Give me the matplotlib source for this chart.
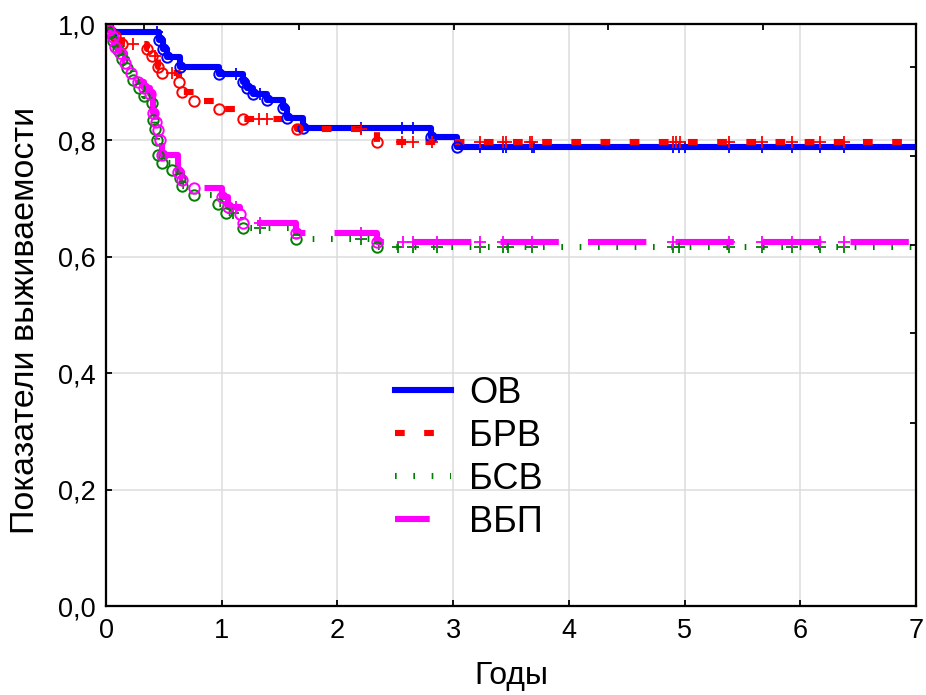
import numpy as np
import matplotlib.pyplot as plt
from matplotlib.lines import Line2D

plt.rcParams['font.family'] = ['Liberation Sans', 'DejaVu Sans']
plt.rcParams['lines.scale_dashes'] = False

# survival steps (time, survival after the event)
t_ov = [0.0, 0.04, 0.46, 0.49, 0.53, 0.64, 0.98, 1.18, 1.22, 1.27, 1.39, 1.53, 1.56, 1.70, 2.81, 3.03]
s_ov = [1.0, 0.986, 0.972, 0.957, 0.943, 0.926, 0.914, 0.9, 0.89, 0.88, 0.87, 0.856, 0.838, 0.821, 0.805, 0.789]
c_ov = [0.44, 1.12, 1.33, 2.2, 2.56, 2.65, 3.23, 3.43, 3.46, 3.68, 3.70, 4.9, 4.95, 5.0, 5.38, 5.67, 5.93, 6.17, 6.38]

t_brv = [0.0, 0.03, 0.08, 0.14, 0.35, 0.40, 0.45, 0.48, 0.63, 0.66, 0.76, 0.98, 1.18, 1.65, 2.34]
s_brv = [1.0, 0.99, 0.98, 0.965, 0.957, 0.945, 0.926, 0.916, 0.9, 0.883, 0.868, 0.854, 0.837, 0.82, 0.797]
c_brv = [0.23, 0.42, 0.57, 1.32, 1.39, 2.2, 2.56, 2.65, 2.82, 3.23, 3.43, 3.46, 3.66, 3.68, 4.9, 4.93, 4.96,
         5.38, 5.67, 5.93, 6.17, 6.38]

t_bsv = [0.0, 0.03, 0.06, 0.1, 0.14, 0.18, 0.235, 0.285, 0.33, 0.40, 0.41, 0.42, 0.44, 0.45, 0.48, 0.57,
         0.64, 0.66, 0.76, 0.97, 1.04, 1.18, 1.64, 2.34]
s_bsv = [1.0, 0.985, 0.97, 0.955, 0.94, 0.925, 0.904, 0.89, 0.876, 0.864, 0.835, 0.82, 0.80, 0.775, 0.761,
         0.749, 0.735, 0.722, 0.706, 0.69, 0.675, 0.65, 0.63, 0.617]
c_bsv = [1.1, 1.33, 2.2, 2.52, 2.65, 2.86, 3.23, 3.43, 3.47, 3.68, 4.9, 4.95, 5.38, 5.67, 5.93, 6.17, 6.38]

t_vbp = [0.0, 0.03, 0.06, 0.08, 0.12, 0.16, 0.22, 0.28, 0.33, 0.38, 0.41, 0.43, 0.45, 0.47, 0.48, 0.62,
         0.66, 0.76, 1.0, 1.05, 1.16, 1.18, 1.64, 2.34]
s_vbp = [1.0, 0.99, 0.978, 0.96, 0.95, 0.933, 0.916, 0.9, 0.89, 0.88, 0.847, 0.832, 0.818, 0.8, 0.775,
         0.746, 0.732, 0.718, 0.703, 0.686, 0.673, 0.658, 0.641, 0.625]
c_vbp = [1.12, 1.33, 2.2, 2.57, 2.65, 2.86, 3.23, 3.43, 3.68, 4.9, 5.38, 5.67, 5.93, 6.17, 6.38]

labels = ['ОВ', 'БРВ', 'БСВ', 'ВБП']
colors = ['#0000ff', '#ff0000', '#008000', '#ff00ff']
styles = ['-', (0, (7, 14)), (0, (1.2, 12)), (0, (42, 21))]
leg_styles = ['-', (0, (7, 14)), (0, (1.2, 12)), (0, (25, 100))]

x_max = 7

fig = plt.figure(figsize=(9.26, 6.95), dpi=100)
ax = fig.add_axes([106 / 926, 1 - 606 / 695, 810 / 926, 582 / 695])

curves = [(t_ov, s_ov, c_ov), (t_brv, s_brv, c_brv), (t_bsv, s_bsv, c_bsv), (t_vbp, s_vbp, c_vbp)]
for (t, s, c), col, ls in zip(curves, colors, styles):
    t = np.array(t + [x_max])
    s = np.array(s + [s[-1]])
    ax.step(t, s, where='post', color=col, lw=4.4, linestyle=ls, zorder=3)
    # event circles
    ax.plot(t[1:-1], s[1:-1], 'o', mfc='none', mec=col, ms=7.5, mew=1.4, zorder=4)
    # censored marks
    c = np.array(c)
    idx = np.searchsorted(t, c, side='right') - 1
    ax.plot(c, s[idx], '+', color=col, ms=8, mew=1.3, zorder=4)

ax.set_xlim(0, x_max)
ax.set_ylim(0, 1)
ax.set_xticks(range(0, 8))
ax.set_yticks([0, 0.2, 0.4, 0.6, 0.8, 1.0])
ax.set_yticklabels(['0,0', '0,2', '0,4', '0,6', '0,8', '1,0'])
ax.grid(True, color='#dcdcdc', lw=1.1)
ax.set_axisbelow(True)
ax.tick_params(direction='in', length=4, width=1.3, labelsize=19.5)
ax.tick_params(axis='x', pad=8.5)
ax.tick_params(axis='y', pad=7.5)
for sp in ax.spines.values():
    sp.set_linewidth(1.5)

# top and right axes ticks (unlabeled)
ax_top = ax.twiny()
ax_top.set_xlim(0, x_max)
ax_top.set_xticks([0.328, 1.668, 3.008, 4.34, 5.68])
ax_top.set_xticklabels([])
ax_top.tick_params(direction='in', length=4, width=1.3)
ax_right = ax.twinx()
ax_right.set_ylim(0, 1)
ax_right.set_yticks([0.926, 0.773, 0.620, 0.469, 0.314])
ax_right.set_yticklabels([])
ax_right.tick_params(direction='in', length=4, width=1.3)
for a in (ax_top, ax_right):
    for sp in a.spines.values():
        sp.set_linewidth(1.5)

ax.set_xlabel('Годы', fontsize=23)
ax.xaxis.set_label_coords(0.5, -0.095)
ax.set_ylabel('Показатели выживаемости', fontsize=24.5)
ax.yaxis.set_label_coords(-0.080, 0.491)

handles = [Line2D([], [], color=col, lw=4.4, linestyle=ls)
           for col, ls in zip(colors, leg_styles)]
ax_right.legend(handles, labels, loc='center left', bbox_to_anchor=(0.357, 0.255), frameon=False,
                fontsize=26, handlelength=1.55, handletextpad=0.5, labelspacing=0.22,
                borderpad=0, borderaxespad=0)

fig.savefig('out.png', dpi=100)
